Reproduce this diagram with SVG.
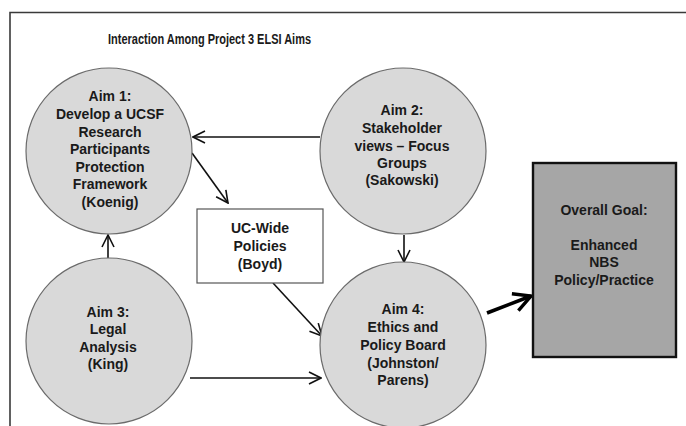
<svg xmlns="http://www.w3.org/2000/svg" width="686" height="426" viewBox="0 0 686 426">
  <style>
    text { font-family: "Liberation Sans", Arial, sans-serif; font-weight: bold; fill: #1a1a1a; }
    .lbl { font-size: 14px; text-anchor: middle; }
    .aim { fill: #d9d9d9; stroke: #6b6b6b; stroke-width: 1.2; }
    .conn { stroke: #111; stroke-width: 1.6; fill: none; }
    .thick { stroke: #000; stroke-width: 3.6; fill: none; }
  </style>
  <defs>
    <marker id="open" viewBox="0 0 14 14" refX="13" refY="7" markerWidth="14" markerHeight="14" markerUnits="userSpaceOnUse" orient="auto">
      <path d="M1,1 L13,7 L1,13" fill="none" stroke="#111" stroke-width="1.6"/>
    </marker>
    <marker id="openBig" viewBox="0 0 22 22" refX="20" refY="11" markerWidth="22" markerHeight="22" markerUnits="userSpaceOnUse" orient="auto">
      <path d="M3,2 L20,11 L3,20" fill="none" stroke="#000" stroke-width="3.4"/>
    </marker>
  </defs>

  <rect width="686" height="426" fill="#fff"/>

  <!-- outer frame, open to the right and bottom -->
  <path d="M10,440 L10,12.5 L700,12.5" fill="none" stroke="#3a3a3a" stroke-width="1.6"/>

  <text x="108" y="44" font-size="14.5" textLength="203" lengthAdjust="spacingAndGlyphs">Interaction Among Project 3 ELSI Aims</text>

  <g id="connectors">
    <line class="conn" x1="320" y1="137" x2="193" y2="137" marker-end="url(#open)"/>
    <line class="conn" x1="192" y1="153" x2="228" y2="203" marker-end="url(#open)"/>
    <line class="conn" x1="108" y1="258" x2="108" y2="235" marker-end="url(#open)"/>
    <line class="conn" x1="404" y1="235" x2="404" y2="262" marker-end="url(#open)"/>
    <line class="conn" x1="273" y1="283" x2="322" y2="336" marker-end="url(#open)"/>
    <line class="conn" x1="190" y1="378" x2="321" y2="378" marker-end="url(#open)"/>
    <line class="thick" x1="487" y1="313" x2="531" y2="296" marker-end="url(#openBig)"/>
  </g>

  <g id="aim1">
    <circle class="aim" cx="109" cy="151" r="83"/>
    <text class="lbl" x="110" y="101">Aim 1:</text>
    <text class="lbl" x="110" y="119">Develop a UCSF</text>
    <text class="lbl" x="110" y="137">Research</text>
    <text class="lbl" x="110" y="154">Participants</text>
    <text class="lbl" x="110" y="172">Protection</text>
    <text class="lbl" x="110" y="189">Framework</text>
    <text class="lbl" x="110" y="207">(Koenig)</text>
  </g>

  <g id="aim2">
    <circle class="aim" cx="403" cy="151" r="83"/>
    <text class="lbl" x="402" y="115">Aim 2:</text>
    <text class="lbl" x="402" y="133">Stakeholder</text>
    <text class="lbl" x="402" y="151">views – Focus</text>
    <text class="lbl" x="402" y="168">Groups</text>
    <text class="lbl" x="402" y="185">(Sakowski)</text>
  </g>

  <g id="aim3">
    <circle class="aim" cx="109" cy="341" r="83"/>
    <text class="lbl" x="108" y="317">Aim 3:</text>
    <text class="lbl" x="108" y="334">Legal</text>
    <text class="lbl" x="108" y="352">Analysis</text>
    <text class="lbl" x="108" y="369">(King)</text>
  </g>

  <g id="aim4">
    <circle class="aim" cx="403" cy="345" r="83"/>
    <text class="lbl" x="403" y="314">Aim 4:</text>
    <text class="lbl" x="403" y="332">Ethics and</text>
    <text class="lbl" x="403" y="350">Policy Board</text>
    <text class="lbl" x="403" y="368">(Johnston/</text>
    <text class="lbl" x="403" y="385">Parens)</text>
  </g>

  <g id="uc-policies">
    <rect x="197" y="209" width="126" height="74" fill="#fff" stroke="#555" stroke-width="1.2"/>
    <text class="lbl" x="260" y="233">UC-Wide</text>
    <text class="lbl" x="260" y="251">Policies</text>
    <text class="lbl" x="260" y="269">(Boyd)</text>
  </g>

  <g id="goal">
    <rect x="533" y="163" width="143" height="194" fill="#a6a6a6" stroke="#111" stroke-width="2.4"/>
    <text class="lbl" x="604" y="215">Overall Goal:</text>
    <text class="lbl" x="604" y="250">Enhanced</text>
    <text class="lbl" x="604" y="267">NBS</text>
    <text class="lbl" x="604" y="285">Policy/Practice</text>
  </g>
</svg>
